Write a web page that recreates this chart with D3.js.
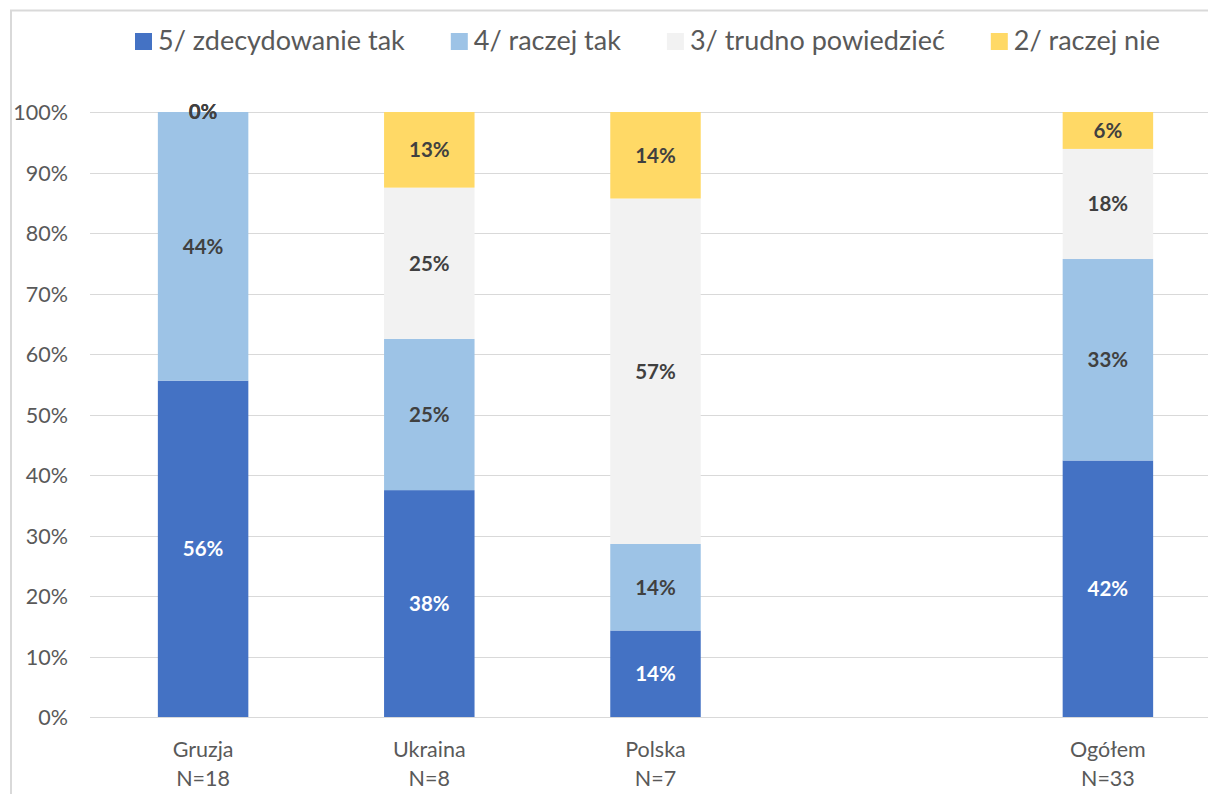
<!DOCTYPE html>
<html>
<head>
<meta charset="utf-8">
<script src="https://cdn.jsdelivr.net/npm/d3@7"></script>
<style>
  html, body { margin: 0; padding: 0; background: #fff; }
  svg { display: block; }
  text { font-family: Lato, "Open Sans", sans-serif; }
</style>
</head>
<body>
<svg id="chart" width="1208" height="794"></svg>
<script>
// ---- data ----
const categories = ["Gruzja", "Ukraina", "Polska", "", "Ogółem"];
const sampleSizes = ["N=18", "N=8", "N=7", "", "N=33"];
const seriesNames = ["5/ zdecydowanie tak", "4/ raczej tak", "3/ trudno powiedzieć", "2/ raczej nie"];
const zdecydowanieTak = [55.6, 37.5, 14.3, null, 42.4];
const raczejTak       = [44.4, 25.0, 14.3, null, 33.3];
const trudnoPowiedziec = [0.0, 25.0, 57.1, null, 18.2];
const raczejNie        = [0.0, 12.5, 14.3, null, 6.1];
const yTicks = [0, 10, 20, 30, 40, 50, 60, 70, 80, 90, 100];
const colors = ["#4472C4", "#9DC3E6", "#F2F2F2", "#FFD966"];
const labelColors = ["#ffffff", "#404040", "#404040", "#404040"];

const seriesValues = [zdecydowanieTak, raczejTak, trudnoPowiedziec, raczejNie];

const svg = d3.select("#chart");

// frame
svg.append("rect")
  .attr("x", 11).attr("y", 10.5)
  .attr("width", 1300).attr("height", 900)
  .attr("fill", "none").attr("stroke", "#d9d9d9").attr("stroke-width", 2);

const plot = { left: 90, right: 1221, top: 112, bottom: 717 };

const x = d3.scaleBand()
  .domain(d3.range(categories.length))
  .range([plot.left, plot.right])
  .paddingInner(0.6).paddingOuter(0.3);

const y = d3.scaleLinear().domain([0, 100]).range([plot.bottom, plot.top]);

// gridlines
svg.append("g").selectAll("line").data(yTicks).join("line")
  .attr("x1", plot.left).attr("x2", 1300)
  .attr("y1", d => Math.round(y(d)) + 0.5).attr("y2", d => Math.round(y(d)) + 0.5)
  .attr("stroke", "#d9d9d9").attr("stroke-width", 1.2);

// y axis labels
const yAxis = d3.axisLeft(y).tickValues(yTicks).tickFormat(d => d + "%").tickSize(0).tickPadding(0);
const yg = svg.append("g").attr("transform", `translate(68,0)`).call(yAxis);
yg.select(".domain").remove();
yg.selectAll("text")
  .attr("fill", "#595959").style("font-size", "21.5px").style("font-family", "Lato, sans-serif")
  .attr("dy", "0.36em");

// stacked data
const rows = categories.map((c, i) => {
  const o = { idx: i };
  seriesValues.forEach((s, k) => o[k] = s[i] == null ? 0 : s[i]);
  o.empty = seriesValues[0][i] == null;
  return o;
}).filter(r => !r.empty);

const stack = d3.stack().keys([0, 1, 2, 3]);
const stacked = stack(rows);

const gBars = svg.append("g");
stacked.forEach((layer, k) => {
  gBars.append("g").attr("fill", colors[k]).selectAll("rect").data(layer).join("rect")
    .attr("x", d => x(d.data.idx))
    .attr("width", x.bandwidth())
    .attr("y", d => y(d[1]))
    .attr("height", d => y(d[0]) - y(d[1]));
});

// data labels
const gLabels = svg.append("g");
stacked.forEach((layer, k) => {
  gLabels.append("g").selectAll("text").data(layer).join("text")
    .attr("x", d => x(d.data.idx) + x.bandwidth() / 2)
    .attr("y", d => (y(d[0]) + y(d[1])) / 2)
    .attr("dy", "0.36em")
    .attr("text-anchor", "middle")
    .attr("fill", labelColors[k])
    .style("font-size", "20.5px").style("font-weight", "bold")
    .text(d => Math.round(d[1] - d[0]) + "%");
});

// x labels
const gx = svg.append("g");
categories.forEach((c, i) => {
  const cx = x(i) + x.bandwidth() / 2;
  gx.append("text").attr("x", cx).attr("y", 757).attr("text-anchor", "middle")
    .attr("fill", "#595959").style("font-size", "21.5px").text(c);
  gx.append("text").attr("x", cx).attr("y", 786).attr("text-anchor", "middle")
    .attr("fill", "#595959").style("font-size", "21.5px").text(sampleSizes[i]);
});

// legend
const legend = svg.append("g");
let lx = 135;
seriesNames.forEach((name, k) => {
  legend.append("rect").attr("x", lx).attr("y", 33).attr("width", 17).attr("height", 17).attr("fill", colors[k]);
  const t = legend.append("text").attr("x", lx + 23).attr("y", 50)
    .attr("fill", "#595959").style("font-size", "27px").text(name);
  const w = t.node().getComputedTextLength();
  lx = lx + 23 + w + 46;
});
</script>
</body>
</html>
